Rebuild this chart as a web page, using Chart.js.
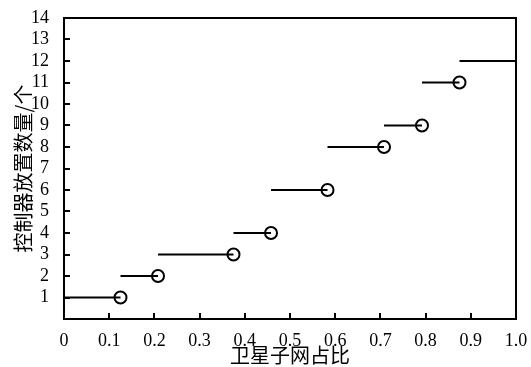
<!DOCTYPE html>
<html>
<head>
<meta charset="utf-8">
<script src="https://cdn.jsdelivr.net/npm/chart.js@4/dist/chart.umd.min.js"></script>
<style>
html,body{margin:0;padding:0;background:#fff;}
#wrap{width:531px;height:367px;}
</style>
</head>
<body>
<div id="wrap"><canvas id="c" width="531" height="367"></canvas></div>
<script>
// Step boundaries (satellite subnet ratio) and controller counts per step
const stepStarts = [0, 0.125, 0.208, 0.375, 0.458, 0.583, 0.708, 0.792, 0.875];
const stepEnds   = [0.125, 0.208, 0.375, 0.458, 0.583, 0.708, 0.792, 0.875, 1.0];
const counts     = [1, 2, 3, 4, 6, 8, 9, 11, 12];
// Open circle markers at the right end of each step (except the last)
const circleX = [0.125, 0.208, 0.375, 0.458, 0.583, 0.708, 0.792, 0.875];
const circleY = [1, 2, 3, 4, 6, 8, 9, 11];
const xTicks = [0, 0.1, 0.2, 0.3, 0.4, 0.5, 0.6, 0.7, 0.8, 0.9, 1.0];
const yTicks = [1, 2, 3, 4, 5, 6, 7, 8, 9, 10, 11, 12, 13, 14];
const xTitle = '卫星子网占比';
const yTitle = '控制器放置数量/个';

const datasets = [];
for (let i = 0; i < counts.length; i++) {
  datasets.push({
    type: 'line',
    data: [{x: stepStarts[i], y: counts[i]}, {x: stepEnds[i], y: counts[i]}],
    borderColor: '#000', borderWidth: 2, pointRadius: 0, fill: false
  });
}
datasets.push({
  type: 'scatter',
  data: circleX.map((x, i) => ({x: x, y: circleY[i]})),
  pointStyle: 'circle', pointRadius: 6, borderWidth: 2,
  borderColor: '#000', backgroundColor: 'rgba(0,0,0,0)'
});

const frame = {
  id: 'frame',
  afterDraw(chart) {
    const {ctx, chartArea: a, scales} = chart;
    ctx.save();
    ctx.strokeStyle = '#000';
    ctx.lineWidth = 2;
    ctx.strokeRect(a.left, a.top, a.right - a.left, a.bottom - a.top);
    ctx.beginPath();
    xTicks.forEach(v => {
      const px = Math.round(scales.x.getPixelForValue(v));
      ctx.moveTo(px, a.bottom); ctx.lineTo(px, a.bottom - 6);
    });
    yTicks.forEach(v => {
      const py = Math.round(scales.y.getPixelForValue(v));
      ctx.moveTo(a.left, py); ctx.lineTo(a.left + 6, py);
    });
    ctx.stroke();
    ctx.restore();
  }
};

new Chart(document.getElementById('c'), {
  data: {datasets},
  options: {
    responsive: false, animation: false,
    layout: {padding: {left: 0, top: 18, right: 15, bottom: 0}},
    plugins: {legend: {display: false}, tooltip: {enabled: false}},
    scales: {
      x: {
        type: 'linear', min: 0, max: 1,
        afterBuildTicks: s => { s.ticks = xTicks.map(v => ({value: v})); },
        afterFit: s => { s.height = 48; },
        grid: {display: false}, border: {display: false},
        ticks: {
          color: '#000', padding: 3, maxRotation: 0, autoSkip: false,
          font: {family: '"Liberation Serif", "Times New Roman", serif', size: 18},
          callback: v => (v === 0 ? '0' : Number(v).toFixed(1))
        },
        title: {display: true, text: xTitle, color: '#000', padding: {top: 0, bottom: 0},
          font: {family: '"Noto Sans CJK SC", sans-serif', size: 20, lineHeight: 1.2}}
      },
      y: {
        type: 'linear', min: 0, max: 14,
        afterBuildTicks: s => { s.ticks = yTicks.map(v => ({value: v})); },
        afterFit: s => { s.width = 64; },
        grid: {display: false}, border: {display: false},
        ticks: {
          color: '#000', padding: 7, autoSkip: false,
          font: {family: '"Liberation Serif", "Times New Roman", serif', size: 18}
        },
        title: {display: true, text: yTitle, color: '#000', padding: {top: 11, bottom: 0},
          font: {family: '"Noto Sans CJK SC", sans-serif', size: 20, lineHeight: 1.2}}
      }
    }
  },
  plugins: [frame]
});
</script>
</body>
</html>
